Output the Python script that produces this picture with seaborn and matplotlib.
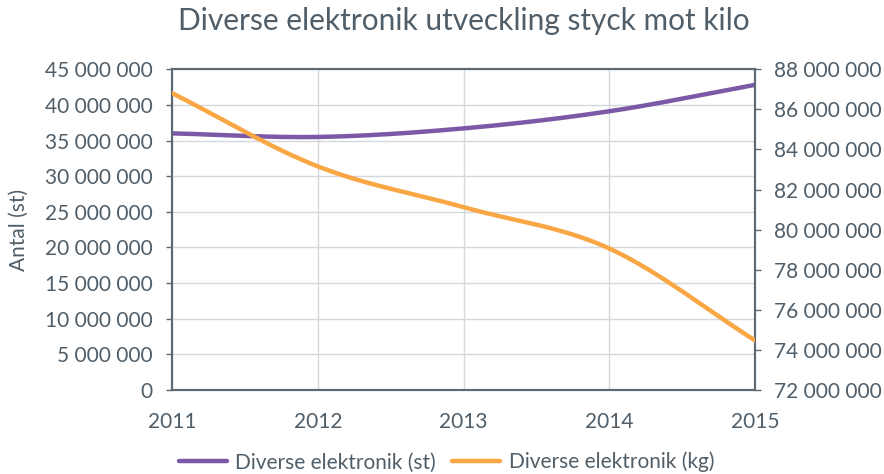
import numpy as np
import pandas as pd
import matplotlib
matplotlib.use("Agg")
import matplotlib.pyplot as plt
import seaborn as sns
from matplotlib.ticker import FuncFormatter, MultipleLocator

# Data
years = [2011, 2012, 2013, 2014, 2015]
antal_st = [36_000_000, 35_500_000, 36_700_000, 39_100_000, 42_800_000]
vikt_kg = [86_800_000, 83_150_000, 81_120_000, 79_060_000, 74_480_000]

PURPLE = "#7b59a6"
ORANGE = "#f9a744"
TEXT = "#4f5e69"
GRID = "#d3d8dc"
SPINE = "#5d6a73"


def smooth(x, y, n=40):
    # Catmull-Rom smoothing (like Excel's "smoothed line"), rendering only
    x = np.asarray(x, float)
    y = np.asarray(y, float)
    px = np.concatenate([[2 * x[0] - x[1]], x, [2 * x[-1] - x[-2]]])
    py = np.concatenate([[2 * y[0] - y[1]], y, [2 * y[-1] - y[-2]]])
    xs, ys = [], []
    t = np.linspace(0, 1, n, endpoint=False)
    for i in range(1, len(px) - 2):
        for arr, out in ((px, xs), (py, ys)):
            p0, p1, p2, p3 = arr[i - 1], arr[i], arr[i + 1], arr[i + 2]
            out.extend(0.5 * (2 * p1 + (-p0 + p2) * t
                              + (2 * p0 - 5 * p1 + 4 * p2 - p3) * t ** 2
                              + (-p0 + 3 * p1 - 3 * p2 + p3) * t ** 3))
    xs.append(x[-1])
    ys.append(y[-1])
    return pd.DataFrame({"year": xs, "value": ys})


sns.set_style("white")
plt.rcParams["font.family"] = ["Lato", "DejaVu Sans"]

fig, ax = plt.subplots(figsize=(8.84, 4.74), dpi=100)
fig.subplots_adjust(left=0.195, right=0.854, top=0.854, bottom=0.177)
ax2 = ax.twinx()

sns.lineplot(data=smooth(years, antal_st), x="year", y="value", ax=ax,
             color=PURPLE, linewidth=3.2, label="Diverse elektronik (st)", legend=False, zorder=3)
sns.lineplot(data=smooth(years, vikt_kg), x="year", y="value", ax=ax2,
             color=ORANGE, linewidth=3.2, label="Diverse elektronik (kg)", legend=False, zorder=3)

fmt = FuncFormatter(lambda v, p: f"{int(v):,}".replace(",", " "))

ax.set_xlim(2011, 2015)
ax.set_ylim(0, 45_000_000)
ax.yaxis.set_major_locator(MultipleLocator(5_000_000))
ax.yaxis.set_major_formatter(fmt)
ax.set_xticks(years)
ax.set_xticklabels([str(y) for y in years])

ax2.set_ylim(72_000_000, 88_000_000)
ax2.yaxis.set_major_locator(MultipleLocator(2_000_000))
ax2.yaxis.set_major_formatter(fmt)

ax.grid(True, color=GRID, linewidth=1)
ax.set_axisbelow(True)
for a in (ax, ax2):
    for s in a.spines.values():
        s.set_color(SPINE)
        s.set_linewidth(1.5)
    a.tick_params(colors=TEXT, labelsize=15, length=4, width=1, direction="out")
    a.tick_params(axis="y", color=SPINE, pad=10)
    a.set_xlabel("")
    a.set_ylabel("")
ax.tick_params(axis="x", pad=16, length=0)

ax.set_ylabel("Antal (st)", color=TEXT, fontsize=15, labelpad=12)
fig.suptitle("Diverse elektronik utveckling styck mot kilo", color=TEXT, fontsize=21.5,
             x=0.525, y=0.985)

h1, l1 = ax.get_legend_handles_labels()
h2, l2 = ax2.get_legend_handles_labels()
fig.legend(h1 + h2, l1 + l2, loc="center", bbox_to_anchor=(0.505, 0.025), ncol=2,
           frameon=False, fontsize=15, labelcolor=TEXT, handlelength=2.3,
           columnspacing=0.8, handletextpad=0.4)

fig.savefig("out.png", dpi=100)
